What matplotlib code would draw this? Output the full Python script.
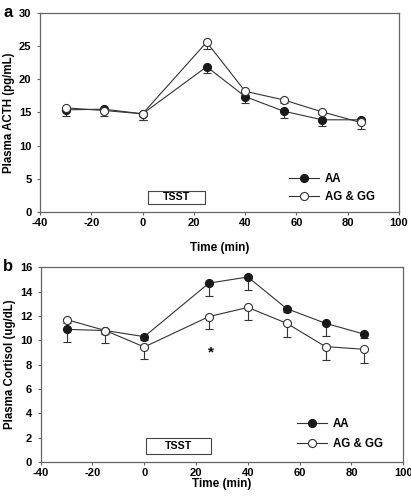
import numpy as np
import matplotlib
matplotlib.use("Agg")
import matplotlib.pyplot as plt
from matplotlib.patches import Rectangle

plt.rcParams['font.family'] = ['Liberation Sans', 'DejaVu Sans']
plt.rcParams['font.weight'] = 'bold'
plt.rcParams['axes.unicode_minus'] = False

# --- Data ---
time = [-30, -15, 0, 25, 40, 55, 70, 85]

acth_aa = [15.4, 15.5, 14.8, 21.9, 17.4, 15.2, 13.9, 13.9]
acth_aa_err = [0.9, 1.0, 0.9, 1.0, 0.9, 1.0, 1.0, 0.3]
acth_ag = [15.7, 15.3, 14.8, 25.6, 18.2, 16.9, 15.1, 13.5]
acth_ag_err = [0.3, 0.3, 0.9, 1.0, 0.5, 0.5, 0.3, 1.0]

cort_aa = [10.9, 10.8, 10.3, 14.7, 15.2, 12.6, 11.4, 10.5]
cort_aa_err = [1.0, 1.0, 0.3, 1.05, 1.05, 0.3, 1.05, 0.3]
cort_ag = [11.7, 10.8, 9.45, 11.95, 12.7, 11.4, 9.48, 9.26]
cort_ag_err = [0.3, 0.3, 1.0, 1.05, 1.05, 1.1, 1.1, 1.1]

xticks = [-40, -20, 0, 20, 40, 60, 80, 100]

# TSST box (x0, x1, y0, y1) in data units
tsst_a = (2, 24.4, 1.2, 3.2)
tsst_b = (0.7, 25.7, 0.66, 1.97)

fig = plt.figure(figsize=(4.11, 4.98), dpi=100)
ax_a = fig.add_axes([0.0973, 0.5743, 0.8735, 0.3996])
ax_b = fig.add_axes([0.0990, 0.0723, 0.8820, 0.3910])

line_col = '#333333'
spine_col = '#666666'


def draw_panel(ax, aa, aa_err, ag, ag_err, ylim, ystep, ylabel, xpad, leg_anchor,
               leg_space, box):
    zeros = [0] * len(time)
    ax.errorbar(time, aa, yerr=[aa_err, zeros], fmt='none', ecolor=line_col,
                elinewidth=0.8, capsize=2.8, capthick=0.8, zorder=2)
    ax.errorbar(time, ag, yerr=[ag_err, zeros], fmt='none', ecolor=line_col,
                elinewidth=0.8, capsize=2.8, capthick=0.8, zorder=2)
    ax.plot(time, aa, '-o', color=line_col, lw=0.8, ms=5.8, mfc='#1a1a1a',
            mec='#1a1a1a', mew=0.8, label='AA', zorder=3)
    ax.plot(time, ag, '-o', color=line_col, lw=0.8, ms=5.8, mfc='white',
            mec='#333333', mew=0.8, label='AG & GG', zorder=4)
    ax.set_xlim(-40, 100)
    ax.set_ylim(*ylim)
    ax.set_xticks(xticks)
    ax.set_yticks(np.arange(ylim[0], ylim[1] + 0.01, ystep))
    ax.tick_params(direction='out', length=2.5, width=0.8, color=spine_col,
                   labelsize=8)
    ax.tick_params(axis='x', pad=2)
    ax.tick_params(axis='y', pad=3.6)
    for s in ax.spines.values():
        s.set_color(spine_col)
        s.set_linewidth(0.9)
    ax.set_xlabel('Time (min)', fontsize=8.5, fontweight='bold', labelpad=xpad)
    ax.set_ylabel(ylabel, fontsize=8.3, fontweight='bold', labelpad=3)
    ax.legend(loc='center right', bbox_to_anchor=leg_anchor, frameon=False,
              fontsize=8.3, handlelength=2.6, handletextpad=0.45,
              labelspacing=leg_space, borderaxespad=0)
    x0, x1, y0, y1 = box
    ax.add_patch(Rectangle((x0, y0), x1 - x0, y1 - y0, fc='white', ec='#444444',
                           lw=0.8, zorder=5))
    ax.text((x0 + x1) / 2, (y0 + y1) / 2, 'TSST', ha='center', va='center',
            fontsize=7.7, fontweight='bold', zorder=6)


draw_panel(ax_a, acth_aa, acth_aa_err, acth_ag, acth_ag_err, (0, 30), 5,
           'Plasma ACTH (pg/mL)', 10, (0.945, 0.12), 0.5, tsst_a)
draw_panel(ax_b, cort_aa, cort_aa_err, cort_ag, cort_ag_err, (0, 16), 2,
           'Plasma Cortisol (ug/dL)', -0.5, (0.956, 0.144), 0.65, tsst_b)

ax_b.text(25.8, 9.0, '*', ha='center', va='center', fontsize=11, fontweight='bold')

fig.text(0.008, 0.975, 'a', fontsize=12, fontweight='bold', va='center')
fig.text(0.008, 0.464, 'b', fontsize=12, fontweight='bold', va='center')

fig.savefig('out.png', dpi=100)
